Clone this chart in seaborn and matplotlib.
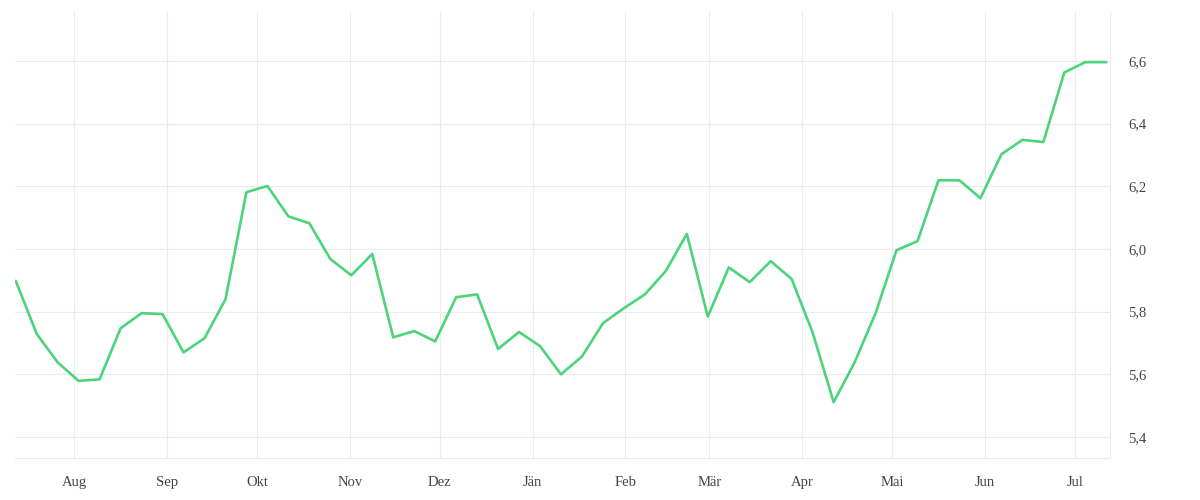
import numpy as np
import pandas as pd
import matplotlib
matplotlib.use("Agg")
import matplotlib.pyplot as plt
import matplotlib.dates as mdates
from matplotlib.ticker import FuncFormatter
import seaborn as sns

# ---- data ----
start_date = "2022-07-12 12:00"
values = [5.898, 5.729, 5.638, 5.579, 5.584, 5.747, 5.795, 5.792, 5.670, 5.715,
          5.839, 6.181, 6.201, 6.104, 6.082, 5.968, 5.916, 5.984, 5.718, 5.738,
          5.705, 5.846, 5.855, 5.681, 5.735, 5.690, 5.600, 5.657, 5.763, 5.811,
          5.855, 5.930, 6.048, 5.784, 5.941, 5.894, 5.961, 5.904, 5.733, 5.511,
          5.638, 5.795, 5.996, 6.025, 6.219, 6.219, 6.162, 6.302, 6.348, 6.341,
          6.563, 6.596, 6.596]
month_starts = ["2022-08-01", "2022-09-01", "2022-10-01", "2022-11-01", "2022-12-01",
                "2023-01-01", "2023-02-01", "2023-03-01", "2023-04-01", "2023-05-01",
                "2023-06-01", "2023-07-01"]
month_labels = ["Aug", "Sep", "Okt", "Nov", "Dez", "Jän", "Feb", "Mär", "Apr", "Mai",
                "Jun", "Jul"]
y_ticks = [5.4, 5.6, 5.8, 6.0, 6.2, 6.4, 6.6]

dates = pd.date_range(start_date, periods=len(values), freq="7D")
df = pd.DataFrame({"date": dates, "value": values})

# ---- style ----
sns.set_style("white")
plt.rcParams["font.family"] = ["Liberation Serif", "DejaVu Serif"]
grid_color = "#ebebeb"
text_color = "#444444"
line_color = "#4cd47b"

fig = plt.figure(figsize=(12, 5), dpi=100)
ax = fig.add_axes([15 / 1200, 42 / 500, (1110 - 15) / 1200, (458 - 12) / 500])

sns.lineplot(data=df, x="date", y="value", ax=ax, color=line_color, linewidth=1.9)

x0 = pd.Timestamp("2022-07-12 06:00")
x1 = pd.Timestamp("2023-07-12 18:00")
ax.set_xlim(x0, x1)
ax.set_ylim(5.333, 6.756)

ax.set_xticks(pd.to_datetime(month_starts))
ax.set_xticklabels(month_labels)
ax.set_xticks([x1], minor=True)
ax.set_yticks(y_ticks)
ax.yaxis.set_major_formatter(FuncFormatter(lambda v, p: f"{v:.1f}".replace(".", ",")))
ax.yaxis.tick_right()

ax.grid(True, color=grid_color, linewidth=0.8)
ax.set_axisbelow(True)
ax.set_xlabel("")
ax.set_ylabel("")

for side in ["top", "left"]:
    ax.spines[side].set_visible(False)
for side in ["bottom", "right"]:
    ax.spines[side].set_color(grid_color)
    ax.spines[side].set_linewidth(0.8)

ax.tick_params(axis="x", which="both", length=7.2, width=0.8, color=grid_color,
               labelsize=10.5, labelcolor=text_color, pad=6)
ax.tick_params(axis="y", length=0, labelsize=10.5, labelcolor=text_color, pad=13)

fig.savefig("out.png", dpi=100)
